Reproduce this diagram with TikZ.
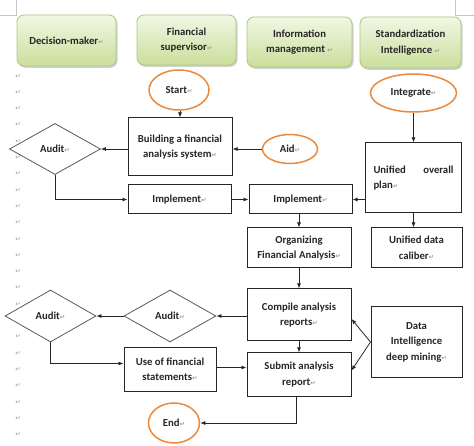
\documentclass[tikz,border=0pt]{standalone}
\usepackage{fontspec}
\setmainfont{Carlito}
\newfontfamily\djv{DejaVu Sans}
\usetikzlibrary{shapes.geometric,arrows.meta,shadows}
\definecolor{orng}{HTML}{EB8A3C}
\definecolor{hdrtop}{HTML}{F1F7E4}
\definecolor{hdrbot}{HTML}{CADF9C}
\definecolor{hdrline}{HTML}{AEC67E}
\newcommand\rmk{{\djv\fontsize{6.5}{6.5}\selectfont\color{gray!75}\symbol{"21B5}}}
\begin{document}
\begin{tikzpicture}[x=1pt,y=-1pt,
  txt/.style={font=\fontsize{10.7}{15.5}\selectfont\bfseries, text=black!85},
  hdr/.style={txt, draw=hdrline, line width=0.8pt, rounded corners=7pt,
    top color=hdrtop, bottom color=hdrbot, align=center,
    drop shadow={shadow xshift=1.5pt, shadow yshift=-1.8pt, opacity=0.3, fill=black!60}},
  box/.style={txt, draw=black!85, line width=1pt, fill=white, inner sep=2pt, align=center},
  oval/.style={txt, ellipse, draw=orng, line width=1.5pt, fill=white, inner sep=0pt},
  dia/.style={txt, diamond, draw=black!65, line width=0.8pt, fill=white, inner sep=0pt},
  arr/.style={-{Latex[length=5pt,width=4pt]}, line width=0.8pt, draw=black!85},
  pm/.style={inner sep=0pt, font=\djv\fontsize{6.5}{6.5}\selectfont, text=gray!75}]
\useasboundingbox (0,0) rectangle (474,446);
\fill[white] (0,0) rectangle (474,446);
% page corner marks
\draw[gray!45, line width=0.5pt] (0,15) -- (16,15) -- (16,0);
\draw[gray!45, line width=0.5pt] (474,15) -- (455,15) -- (455,0);
% paragraph marks in the left margin
\foreach \k in {0,...,22} \node[pm] (m\k) at (18,{76+16.3*\k}) {\symbol{"21B5}};
% headers
\node[hdr, minimum width=99pt, minimum height=51pt] (h1) at (66.5,40.5) {Decision-maker\rmk};
\node[hdr, minimum width=99pt, minimum height=50pt] (h2) at (186.5,40) {Financial\\supervisor\rmk};
\node[hdr, minimum width=105pt, minimum height=50pt] (h3) at (299.5,42) {Information\\management \rmk};
\node[hdr, minimum width=101pt, minimum height=51pt] (h4) at (410.5,42.5) {Standardization\\Intelligence \rmk};
% nodes
\node[oval, minimum width=60pt, minimum height=40pt] (start) at (179,90) {Start\rmk};
\node[oval, minimum width=86pt, minimum height=38pt] (integ) at (413.5,93) {Integrate\rmk};
\node[box, minimum width=104pt, minimum height=58pt] (build) at (180,147) {Building a financial\\analysis system\rmk};
\node[dia, minimum width=91pt, minimum height=51pt] (audit1) at (55,149) {Audit\rmk};
\node[oval, minimum width=55pt, minimum height=29pt] (aid) at (290,149) {Aid\rmk};
\node[box, minimum width=96pt, minimum height=70pt] (plan) at (413.5,178) {\makebox[80pt]{Unified\hfill overall}\\\makebox[80pt][l]{plan\rmk}};
\node[box, minimum width=103pt, minimum height=29pt] (imp1) at (179.5,199.5) {Implement\rmk};
\node[box, minimum width=103pt, minimum height=29pt] (imp2) at (300.5,199.5) {Implement\rmk};
\node[box, minimum width=104pt, minimum height=40pt] (org) at (299,248) {Organizing\\Financial Analysis\rmk};
\node[box, minimum width=91pt, minimum height=40pt] (cal) at (416.5,248) {Unified data\\caliber\rmk};
\node[box, minimum width=104pt, minimum height=52pt] (comp) at (299,315) {Compile analysis\\reports\rmk};
\node[box, minimum width=104pt, minimum height=43pt] (sub) at (299,374.5) {Submit analysis\\report\rmk};
\node[box, minimum width=91pt, minimum height=70pt] (data) at (416.5,342) {Data\\Intelligence\\deep mining\rmk};
\node[dia, minimum width=92pt, minimum height=52pt] (audit2) at (170,316) {Audit\rmk};
\node[dia, minimum width=91pt, minimum height=52pt] (audit3) at (50.5,316) {Audit\rmk};
\node[box, minimum width=92pt, minimum height=43pt] (use) at (170,369.5) {Use of financial\\statements\rmk};
\node[oval, minimum width=51pt, minimum height=40pt] (end) at (174,423) {End\rmk};
% connectors
\draw[arr] (start.south -| build.north) -- (build.north);
\draw[arr] (aid.west) -- (aid.west -| build.east);
\draw[arr] (aid.west -| build.west) -- (audit1.east);
\draw[arr] (audit1.south) |- (imp1.west);
\draw[arr] (imp1.east) -- (imp2.west);
\draw[arr] (plan.west |- imp2.east) -- (imp2.east);
\draw[arr] (integ.south) -- (plan.north);
\draw[arr] (plan.south) -- (plan.south |- cal.north);
\draw[arr] (org.north |- imp2.south) -- (org.north);
\draw[arr] (org.south) -- (comp.north);
\draw[arr] (comp.south) -- (sub.north);
\draw[arr] (data.west) -- ([yshift=-4pt]comp.east);
\draw[arr] (data.west) -- ([yshift=4pt]sub.east);
\draw[arr] (comp.west |- audit2.east) -- (audit2.east);
\draw[arr] (audit2.west) -- (audit3.east);
\draw[arr] (audit3.south) |- ([yshift=6pt]use.west);
\draw[arr] ([yshift=2pt]use.east) -- ([yshift=2pt]use.east -| sub.west);
\draw[arr] ([xshift=-3pt]sub.south) |- (end.east);
\end{tikzpicture}
\end{document}
